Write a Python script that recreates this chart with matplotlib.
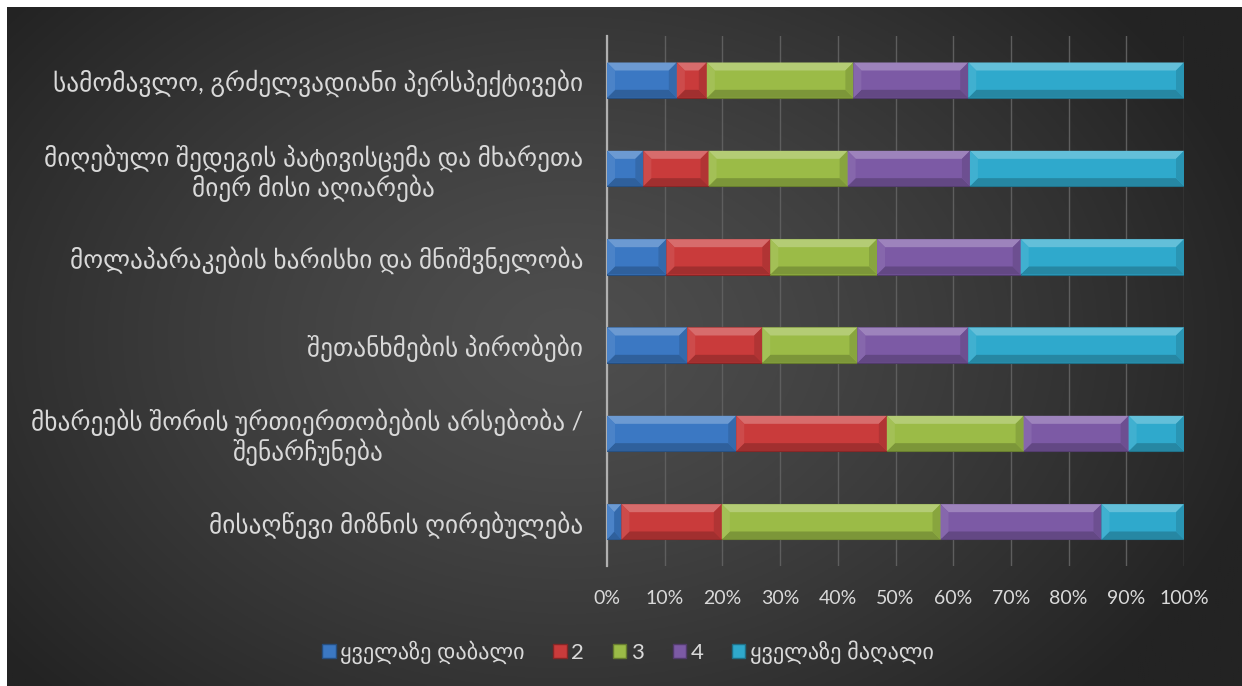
import numpy as np
import matplotlib
matplotlib.use("Agg")
import matplotlib.pyplot as plt
from matplotlib.patches import Polygon, Patch
from matplotlib.colors import to_rgb

# ---- data -------------------------------------------------------------
categories = [
    "სამომავლო, გრძელვადიანი პერსპექტივები",
    "მიღებული შედეგის პატივისცემა და მხარეთა\nმიერ მისი აღიარება",
    "მოლაპარაკების ხარისხი და მნიშვნელობა",
    "შეთანხმების პირობები",
    "მხარეებს შორის ურთიერთობების არსებობა /\nშენარჩუნება",
    "მისაღწევი მიზნის ღირებულება",
]
lowest = [12.1, 6.3, 10.3, 13.9, 22.4, 2.5]
level2 = [5.2, 11.3, 18.0, 13.0, 26.1, 17.4]
level3 = [25.4, 24.1, 18.5, 16.5, 23.7, 37.9]
level4 = [19.9, 21.2, 24.9, 19.2, 18.2, 27.9]
highest = [37.4, 37.1, 28.3, 37.4, 9.6, 14.3]
series_names = ["ყველაზე დაბალი", "2", "3", "4", "ყველაზე მაღალი"]
series_colors = ["#3b78c3", "#c93b3b", "#9bbb47", "#7c5aa5", "#2fa9cc"]
xtick_values = list(range(0, 101, 10))

TEXT = "#d9d9d9"
FONT = ["Lato", "DejaVu Sans"]
plt.rcParams["font.family"] = FONT

W, H = 1242, 686
fig = plt.figure(figsize=(W / 100, H / 100), dpi=100, facecolor="white")

# ---- dark radial-gradient background -----------------------------------
bg = fig.add_axes([7 / W, 0, 1 - 7 / W, 1 - 7 / H], zorder=-10)
gx, gy = np.meshgrid(np.linspace(0, W - 7, 600), np.linspace(0, H - 7, 340))
cx, cy = 560, 330
r = np.sqrt(((gx - cx) / 720) ** 2 + ((gy - cy) / 520) ** 2)
r = np.clip(r, 0, 1)
light, dark = np.array([0x4e] * 3) / 255, np.array([0x23] * 3) / 255
img = light[None, None, :] * (1 - r[..., None] ** 1.3) + dark[None, None, :] * (r[..., None] ** 1.3)
bg.imshow(img, aspect="auto", extent=[0, 1, 0, 1], origin="upper")
bg.set_axis_off()

# ---- plot area ------------------------------------------------------
ax = fig.add_axes([607 / W, 1 - 566 / H, (1184 - 607) / W, (566 - 36) / H])
ax.set_facecolor("none")

series = np.array([lowest, level2, level3, level4, highest], dtype=float)
series = series / series.sum(axis=0) * 100.0
ypos = np.arange(len(categories))
bar_h = 0.40


def shade(color, f):
    c = np.array(to_rgb(color))
    if f >= 0:
        return tuple(c + (1 - c) * f)
    return tuple(c * (1 + f))


left = np.zeros(len(categories))
px_x = 100.0 / (1184 - 607)            # data units per pixel (x)
px_y = len(categories) / (566 - 36)    # data units per pixel (y)
for vals, col, name in zip(series, series_colors, series_names):
    bars = ax.barh(ypos, vals, left=left, height=bar_h, color=col,
                   edgecolor=shade(col, -0.35), linewidth=0.8, zorder=3, label=name)
    for p in bars.patches:
        x0, yt, w, h = p.get_x(), p.get_y(), p.get_width(), p.get_height()
        x1, yb = x0 + w, yt + h
        bx = min(8 * px_x, w / 2)
        by = min(8 * px_y, h / 2)
        faces = [
            ([(x0, yt), (x1, yt), (x1 - bx, yt + by), (x0 + bx, yt + by)], shade(col, 0.25)),
            ([(x0, yb), (x1, yb), (x1 - bx, yb - by), (x0 + bx, yb - by)], shade(col, -0.20)),
            ([(x0, yt), (x0 + bx, yt + by), (x0 + bx, yb - by), (x0, yb)], shade(col, 0.08)),
            ([(x1, yt), (x1 - bx, yt + by), (x1 - bx, yb - by), (x1, yb)], shade(col, -0.12)),
        ]
        for pts, fc in faces:
            ax.add_patch(Polygon(pts, closed=True, facecolor=fc, edgecolor="none", zorder=4))
    left = left + vals

ax.set_xlim(0, 100)
ax.set_ylim(len(categories) - 0.5, -0.5)
ax.set_xticks(xtick_values)
ax.set_xticklabels([f"{v}%" for v in xtick_values], color=TEXT, fontsize=14)
ax.set_yticks(ypos)
ax.set_yticklabels(categories, color=TEXT, fontsize=18.2, multialignment="center",
                   linespacing=1.12)
ax.tick_params(axis="both", length=0)
ax.tick_params(axis="x", pad=17)
ax.tick_params(axis="y", pad=17)
ax.grid(axis="x", color="#5e5e5e", linewidth=1, zorder=0)
for s in ("top", "right", "bottom"):
    ax.spines[s].set_visible(False)
ax.spines["left"].set_color("#b0b0b0")
ax.spines["left"].set_linewidth(1.6)

handles = [Patch(facecolor=c, edgecolor=shade(c, -0.35), label=n)
           for c, n in zip(series_colors, series_names)]
fig.legend(handles=handles, loc="center", bbox_to_anchor=(628 / W, 1 - 652 / H),
           ncol=5, frameon=False, fontsize=16, labelcolor=TEXT,
           handlelength=0.6, handleheight=0.6, handletextpad=0.2, columnspacing=1.3)

fig.savefig("out.png", dpi=100, facecolor="white")
